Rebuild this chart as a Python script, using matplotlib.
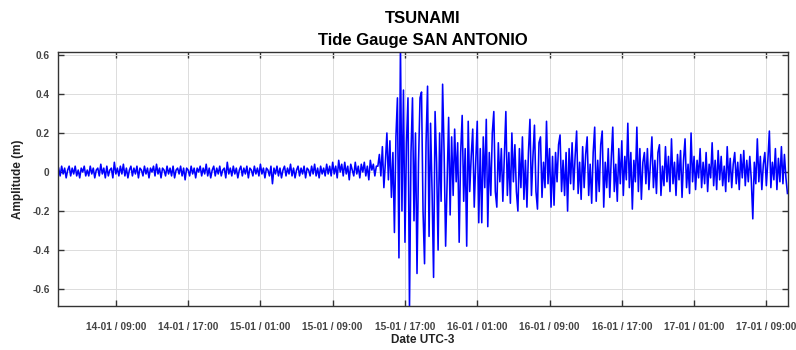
import numpy as np
import matplotlib
matplotlib.use("Agg")
import matplotlib.pyplot as plt
import matplotlib.dates as mdates
from datetime import datetime, timedelta

plt.rcParams['font.family'] = ['Liberation Sans', 'DejaVu Sans']

# sea level residual (m), one reading every 10 minutes from 14-01 02:40
start = datetime(2022, 1, 14, 2, 40)
step_min = 10

calm = [
    0.02, -0.02, 0.03, -0.01, 0.02, -0.03, 0.01, 0.03, -0.02, 0.02, -0.01, 0.03, -0.02, 0.01, -0.03, 0.02, 0.00, 0.03, -0.02, 0.01,
    -0.02, 0.03, -0.01, 0.02, -0.03, 0.01, 0.02, -0.02, 0.04, -0.01, 0.02, -0.03, 0.03, -0.02, 0.01, 0.02, -0.03, 0.05, -0.01, 0.02,
    -0.02, 0.03, -0.01, 0.04, -0.02, 0.02, -0.03, 0.01, 0.03, -0.02, 0.02, -0.01, 0.03, -0.03, 0.02, 0.01, -0.02, 0.03, -0.01, 0.02,
    -0.03, 0.02, 0.00, 0.03, -0.02, 0.04, -0.01, 0.02, -0.03, 0.02, 0.01, -0.02, 0.03, -0.01, 0.02, -0.02, 0.03, -0.03, 0.01, 0.02,
    -0.01, 0.03, -0.02, 0.02, -0.04, 0.02, 0.01, -0.02, 0.03, -0.01, 0.02, -0.03, 0.02, 0.00, 0.03, -0.02, 0.02, -0.01, 0.04, -0.02,
    0.02, -0.03, 0.01, 0.03, -0.02, 0.02, -0.01, 0.03, -0.02, 0.01, 0.02, -0.03, 0.05, -0.01, 0.02, -0.02, 0.03, -0.01, 0.02, -0.03,
    0.01, 0.03, -0.02, 0.02, -0.01, 0.03, -0.03, 0.02, 0.01, -0.02, 0.03, -0.01, 0.02, -0.02, 0.04, -0.01, 0.02, -0.03, 0.02, 0.01,
    -0.02, 0.03, -0.06, 0.02, -0.01, 0.03, -0.02, 0.02, -0.03, 0.01, 0.03, -0.02, 0.02, -0.01, 0.04, -0.02, 0.02, -0.03, 0.01, 0.03,
    -0.02, 0.02, -0.01, 0.03, -0.03, 0.02, 0.01, -0.02, 0.03, -0.01, 0.04, -0.02, 0.02, -0.03, 0.03, -0.01, 0.02, -0.02, 0.04, -0.01,
    0.03, -0.02, 0.05, -0.01, 0.03, -0.03, 0.06, 0.00, 0.04, -0.02, 0.05, -0.01, 0.03, -0.04, 0.04, 0.01, -0.02, 0.05, -0.01, 0.03,
    -0.03, 0.04, 0.00, 0.05, -0.02, 0.03, -0.04, 0.06, 0.01, 0.04, -0.02, 0.03,
]

arrival = [
    0.03, 0.09, -0.02, 0.13, -0.08, 0.05, 0.20, -0.04, 0.16, -0.13, 0.10, -0.31, 0.18, 0.38, -0.44, 0.65, -0.20, 0.42, -0.36, 0.15,
    0.38, -0.70, 0.10, 0.38, -0.25, 0.20, -0.52, 0.05, 0.38, 0.41, -0.20, -0.47, 0.15, 0.44, -0.33, 0.25, -0.10, -0.54, 0.31, 0.05,
    -0.40, 0.20, -0.15, 0.45, 0.10, -0.38, -0.05, 0.28, -0.22, 0.18, -0.12, 0.22, -0.05, 0.15, -0.36, 0.10, 0.29, -0.15, 0.12, -0.38,
    0.26, -0.10, 0.08, 0.22, -0.18, 0.05, 0.26, -0.26, 0.12, -0.26, 0.18, -0.08,
]

decay = [
    0.27, -0.28, 0.10, -0.12, 0.20, 0.31, -0.10, -0.18, 0.15, -0.05, 0.12, -0.15, 0.08, 0.31, -0.12, 0.10, -0.16, 0.20, -0.05, 0.14,
    -0.10, -0.20, 0.12, -0.08, 0.18, -0.14, 0.06, -0.18, 0.10, 0.27, -0.12, 0.08, 0.24, -0.10, -0.19, 0.15, 0.18, -0.13, 0.05, -0.08,
    0.26, -0.06, 0.12, -0.18, 0.08, -0.17, 0.10, -0.05, 0.14, 0.19, -0.10, 0.06, -0.12, 0.10, -0.20, 0.12, -0.06, 0.15, -0.09, 0.08,
    0.21, -0.11, 0.05, -0.14, 0.13, -0.08, 0.09, 0.18, -0.12, 0.04, -0.16, 0.10, 0.23, -0.15, 0.06, -0.10, 0.14, 0.21, -0.18, 0.05,
    -0.08, 0.12, -0.13, 0.07, 0.23, -0.10, 0.04, -0.15, 0.12, -0.06, 0.16, -0.12, 0.08, -0.04, 0.25, -0.08, 0.10, -0.19, 0.06, -0.05,
    0.23, -0.10, 0.12, -0.14, 0.05, 0.10, -0.06, 0.12, -0.09, 0.04, 0.18, -0.08, 0.06, -0.11, 0.10, 0.14, -0.12, 0.03, -0.07, 0.13,
    -0.05, 0.08, -0.10, 0.17, -0.06, 0.05, -0.12, 0.09, -0.04, 0.11, -0.13, 0.06, 0.17, -0.08, 0.04, -0.11, 0.20, -0.05, 0.08, -0.09,
    0.06, -0.03, 0.12, -0.08, 0.05, -0.06, 0.10, -0.10, 0.04, -0.03, 0.15, -0.07, 0.06, -0.09, 0.11, -0.04, 0.08, -0.07, 0.03, -0.10,
    0.13, -0.05, 0.07, -0.08, 0.04, 0.10, -0.06, 0.05, -0.09, 0.09, -0.03, 0.11, -0.07, 0.06, -0.05, 0.08, -0.04, -0.24, 0.05, -0.06,
    0.17, -0.05, 0.08, -0.09, 0.04, 0.10, -0.07, 0.06, 0.21, -0.08, 0.05, -0.04, 0.12, -0.09, 0.07, -0.05, 0.13, -0.06, 0.09, -0.03,
    -0.11,
]

level = calm + arrival + decay
times = [start + timedelta(minutes=step_min * k) for k in range(len(level))]

tick_times = [datetime(2022, 1, 14, 9) + timedelta(hours=8 * k) for k in range(10)]
y_ticks = [-0.6, -0.4, -0.2, 0, 0.2, 0.4, 0.6]
y_labels = ['-0.6', '-0.4', '-0.2', '0', '0.2', '0.4', '0.6']

fig = plt.figure(figsize=(7.96, 3.5), dpi=100)
ax = fig.add_axes([0.0729, 0.1266, 0.9171, 0.7248])

ax.plot(times, level, color='#0000ff', lw=1.15)

ax.set_xlim(datetime(2022, 1, 14, 2, 36), datetime(2022, 1, 17, 11, 24))
ax.set_ylim(-0.685, 0.615)
ax.set_xticks(tick_times)
ax.xaxis.set_major_formatter(mdates.DateFormatter('%d-%m / %H:%M'))
ax.set_yticks(y_ticks)
ax.set_yticklabels(y_labels)

ax.grid(True, color='#dcdcdc', lw=0.7)
ax.tick_params(direction='in', top=True, right=True, length=4, width=1.0,
               color='#333333', labelsize=7.3, labelcolor='#444444')
ax.tick_params(axis='x', pad=12)
ax.tick_params(axis='y', pad=6)
for lab in ax.get_xticklabels() + ax.get_yticklabels():
    lab.set_fontweight('bold')
for sp in ax.spines.values():
    sp.set_color('#333333')
    sp.set_linewidth(1.0)

ax.set_xlabel('Date UTC-3', fontsize=8.5, fontweight='bold', color='#222222', labelpad=1)
ax.set_ylabel('Amplitude (m)', fontsize=8.5, fontweight='bold', color='#222222', labelpad=6)
ax.set_title('TSUNAMI\nTide Gauge SAN ANTONIO', fontsize=12, fontweight='bold', pad=5,
             linespacing=1.55)

fig.savefig('out.png', dpi=100)
